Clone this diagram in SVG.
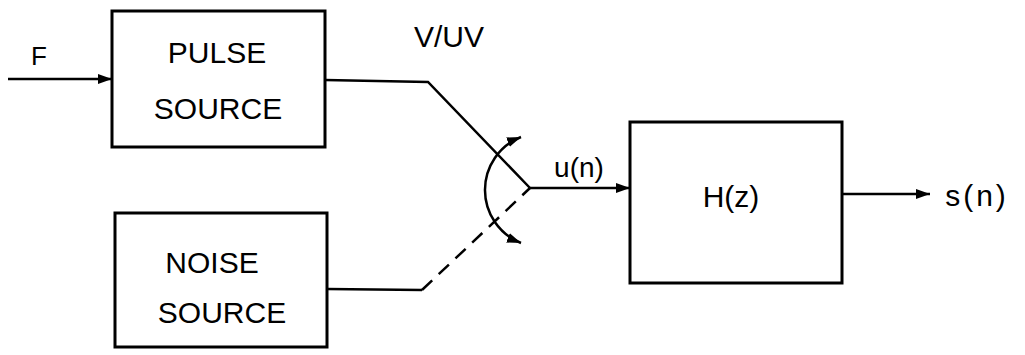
<svg xmlns="http://www.w3.org/2000/svg" width="1025" height="355" viewBox="0 0 1025 355">
<defs>
<style>
.box{fill:none;stroke:#000;stroke-width:3}
.ln{fill:none;stroke:#000;stroke-width:2.5}
.t{font-family:"Liberation Sans",Arial,sans-serif;font-size:30px;fill:#000;text-anchor:middle;dominant-baseline:central}
</style>
<marker id="ah" viewBox="0 0 14 10" refX="14" refY="5" markerWidth="14" markerHeight="10" markerUnits="userSpaceOnUse" orient="auto">
<path d="M0,0 L14,5 L0,10 Z" fill="#000"/>
</marker>
<marker id="ahs" viewBox="0 0 14 10" refX="14" refY="5" markerWidth="14" markerHeight="10" markerUnits="userSpaceOnUse" orient="auto-start-reverse">
<path d="M0,0 L14,5 L0,10 Z" fill="#000"/>
</marker>
</defs>
<rect width="1025" height="355" fill="#fff"/>
<g id="pulse">
<rect class="box" x="112" y="11" width="213" height="136"/>
<text class="t" x="217" y="52">PULSE</text>
<text class="t" x="218" y="108">SOURCE</text>
</g>
<g id="noise">
<rect class="box" x="115" y="213" width="212" height="134"/>
<text class="t" x="212" y="262">NOISE</text>
<text class="t" x="222" y="312">SOURCE</text>
</g>
<g id="hz">
<rect class="box" x="630" y="122" width="212" height="161"/>
<text class="t" x="731" y="196">H(z)</text>
</g>
<g id="connectors">
<line class="ln" x1="8" y1="79" x2="112" y2="79" marker-end="url(#ah)"/>
<polyline class="ln" points="325,80 428,82 530,188"/>
<polyline class="ln" points="327,289 422,290"/>
<line class="ln" x1="422" y1="290" x2="530" y2="188" stroke-dasharray="14,9"/>
<line class="ln" x1="530" y1="188" x2="630" y2="188" marker-end="url(#ah)"/>
<line class="ln" x1="842" y1="194" x2="930" y2="194" marker-end="url(#ah)"/>
<path class="ln" d="M521,137 A57,57 0 0 0 521,243" marker-start="url(#ahs)" marker-end="url(#ah)"/>
</g>
<g id="labels">
<text class="t" x="39" y="56" style="font-size:26px">F</text>
<text class="t" x="449" y="36">V/UV</text>
<text class="t" x="579" y="167" style="font-size:28px">u(n)</text>
<text class="t" x="977" y="195" style="letter-spacing:3px">s(n)</text>
</g>
</svg>
